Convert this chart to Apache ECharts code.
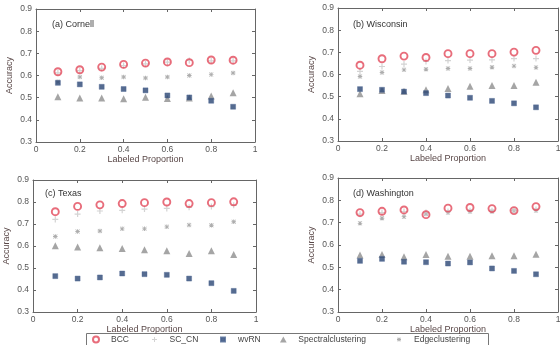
<!DOCTYPE html>
<html>
<head>
<meta charset="utf-8">
<script src="https://cdn.jsdelivr.net/npm/echarts@6/dist/echarts.min.js"></script>
<style>
html,body{margin:0;padding:0;background:#fff;}
#c{width:560px;height:345px;}
</style>
</head>
<body>
<div id="c"></div>
<script>
// ---- data ----
const xs = [0.1, 0.2, 0.3, 0.4, 0.5, 0.6, 0.7, 0.8, 0.9];
const seriesNames = ['BCC', 'SC_CN', 'wvRN', 'Spectralclustering', 'Edgeclustering'];
const panelTitles = ['(a) Cornell', '(b) Wisconsin', '(c) Texas', '(d) Washington'];

const cornellBCC      = [0.617, 0.626, 0.638, 0.650, 0.656, 0.661, 0.658, 0.670, 0.669];
const cornellSCCN     = [0.612, 0.622, 0.632, 0.645, 0.652, 0.660, 0.668, 0.666, 0.666];
const cornellWvRN     = [0.567, 0.560, 0.549, 0.539, 0.533, 0.510, 0.501, 0.486, 0.459];
const cornellSpectral = [0.504, 0.499, 0.498, 0.495, 0.502, 0.496, 0.499, 0.507, 0.522];
const cornellEdge     = [0.572, 0.593, 0.590, 0.593, 0.589, 0.593, 0.600, 0.604, 0.611];

const wiscBCC      = [0.642, 0.671, 0.683, 0.677, 0.694, 0.694, 0.694, 0.701, 0.709];
const wiscSCCN     = [0.614, 0.636, 0.647, 0.659, 0.663, 0.665, 0.666, 0.672, 0.672];
const wiscWvRN     = [0.534, 0.531, 0.523, 0.516, 0.505, 0.495, 0.481, 0.470, 0.452];
const wiscSpectral = [0.513, 0.528, 0.525, 0.531, 0.537, 0.547, 0.550, 0.550, 0.565];
const wiscEdge     = [0.591, 0.609, 0.621, 0.624, 0.627, 0.627, 0.633, 0.638, 0.632];

const texasBCC      = [0.756, 0.780, 0.787, 0.793, 0.797, 0.800, 0.793, 0.797, 0.801];
const texasSCCN     = [0.721, 0.745, 0.759, 0.762, 0.768, 0.771, 0.776, 0.779, 0.785];
const texasWvRN     = [0.463, 0.452, 0.457, 0.475, 0.472, 0.469, 0.452, 0.431, 0.396];
const texasSpectral = [0.601, 0.596, 0.592, 0.589, 0.583, 0.578, 0.566, 0.578, 0.561];
const texasEdge     = [0.643, 0.666, 0.668, 0.678, 0.678, 0.687, 0.695, 0.694, 0.710];

const washBCC      = [0.745, 0.751, 0.757, 0.736, 0.765, 0.768, 0.763, 0.754, 0.772];
const washSCCN     = [0.738, 0.745, 0.750, 0.745, 0.750, 0.753, 0.753, 0.754, 0.759];
const washWvRN     = [0.529, 0.538, 0.525, 0.523, 0.517, 0.522, 0.495, 0.484, 0.469];
const washSpectral = [0.555, 0.558, 0.547, 0.558, 0.550, 0.550, 0.552, 0.552, 0.559];
const washEdge     = [0.697, 0.720, 0.727, 0.739, 0.745, 0.750, 0.750, 0.753, 0.754];

const xTickMin = 0, xTickMax = 1, xTickStep = 0.2;
const yTickMin = 0.3, yTickMax = 0.9, yTickStep = 0.1;

// ---- layout / style ----
const panelData = [
  [cornellBCC, cornellSCCN, cornellWvRN, cornellSpectral, cornellEdge],
  [wiscBCC, wiscSCCN, wiscWvRN, wiscSpectral, wiscEdge],
  [texasBCC, texasSCCN, texasWvRN, texasSpectral, texasEdge],
  [washBCC, washSCCN, washWvRN, washSpectral, washEdge]
];
const grids = [
  {left: 36, top: 9, width: 219, height: 133},
  {left: 338, top: 8, width: 220, height: 133},
  {left: 33, top: 180, width: 223, height: 132},
  {left: 338, top: 178, width: 220, height: 134}
];
const titlePos = [[47, 15], [348, 15], [40, 184], [348, 184]];

const plusPath = 'path://M4,0H6V4H10V6H6V10H4V6H0V4H4Z';
const starPath = 'path://M4,0H6V4H10V6H6V10H4V6H0V4H4Z M1,0L5,4L9,0L10,1L6,5L10,9L9,10L5,6L1,10L0,9L4,5L0,1Z';
const squarePath = 'path://M0,0H10V10H0Z';
const triPath = 'path://M5,0L10,9H0Z';

const styles = {
  'BCC': {symbol: 'circle', symbolSize: 7, itemStyle: {color: 'rgba(255,255,255,0)', borderColor: '#e2485a', borderWidth: 1.9}},
  'SC_CN': {symbol: plusPath, symbolSize: 6, itemStyle: {color: '#c8c8c8'}},
  'wvRN': {symbol: 'rect', symbolSize: 5, itemStyle: {color: '#2b4674', borderColor: '#4a6490', borderWidth: 0.5}},
  'Spectralclustering': {symbol: 'triangle', symbolSize: 7, itemStyle: {color: '#8e8e8e'}},
  'Edgeclustering': {symbol: starPath, symbolSize: 4.5, itemStyle: {color: '#999'}}
};
const legendIcons = {
  'BCC': 'circle', 'SC_CN': plusPath, 'wvRN': squarePath,
  'Spectralclustering': triPath, 'Edgeclustering': starPath
};
const legendIconSize = {'BCC': 6, 'SC_CN': 5, 'wvRN': 4, 'Spectralclustering': 6, 'Edgeclustering': 4};
const drawOrder = ['Edgeclustering', 'Spectralclustering', 'wvRN', 'SC_CN', 'BCC'];

const axisColor = '#666';
const labelColor = '#555';
const fontFam = 'Liberation Sans, Arial, sans-serif';

const xAxes = [], yAxes = [], series = [], titles = [];
grids.forEach((g, i) => {
  const base = {
    gridIndex: i, type: 'value',
    splitLine: {show: false},
    axisLine: {show: true, onZero: false, lineStyle: {color: axisColor, width: 1}},
    axisTick: {show: true, inside: true, length: 3, lineStyle: {color: axisColor}}
  };
  xAxes.push(Object.assign({}, base, {
    position: 'bottom', min: xTickMin, max: xTickMax, interval: xTickStep,
    name: 'Labeled Proportion', nameLocation: 'middle', nameGap: 11,
    nameTextStyle: {fontSize: 9, color: '#5a4848', fontFamily: fontFam},
    axisLabel: {fontSize: 8.5, color: labelColor, margin: 3, fontFamily: fontFam}
  }));
  xAxes.push(Object.assign({}, base, {
    position: 'top', min: xTickMin, max: xTickMax, interval: xTickStep,
    axisLabel: {show: false}
  }));
  yAxes.push(Object.assign({}, base, {
    position: 'left', min: yTickMin, max: yTickMax, interval: yTickStep,
    name: 'Accuracy', nameLocation: 'middle', nameGap: 22, nameRotate: 90,
    nameTextStyle: {fontSize: 9, color: '#5a4848', fontFamily: fontFam},
    axisLabel: {fontSize: 8.5, color: labelColor, margin: 4, fontFamily: fontFam,
      formatter: v => v.toFixed(1)}
  }));
  yAxes.push(Object.assign({}, base, {
    position: 'right', min: yTickMin, max: yTickMax, interval: yTickStep,
    axisLabel: {show: false}
  }));
  titles.push({
    text: panelTitles[i], left: titlePos[i][0], top: titlePos[i][1],
    textStyle: {fontSize: 9, fontWeight: 'normal', color: '#333', fontFamily: fontFam}
  });
  drawOrder.forEach(name => {
    const k = seriesNames.indexOf(name);
    const vals = panelData[i][k];
    series.push(Object.assign({
      name: name, type: 'scatter',
      xAxisIndex: i * 2, yAxisIndex: i * 2,
      data: xs.map((x, j) => [x, vals[j]]),
      animation: false, emphasis: {disabled: true}
    }, styles[name]));
  });
});

// legend: one component per entry, placed like the reference
const legendLeft = [92, 152, 220, 280, 397];
const legends = seriesNames.map((n, k) => ({
  data: [{name: n, icon: legendIcons[n]}],
  left: legendLeft[k], top: 335, orient: 'horizontal',
  itemWidth: 20, itemHeight: legendIconSize[n], itemGap: 5, padding: 0, selectedMode: false,
  symbolKeepAspect: true,
  textStyle: {fontSize: 8.5, color: '#444', fontFamily: fontFam}
}));

const chart = echarts.init(document.getElementById('c'), null, {renderer: 'canvas'});
chart.setOption({
  backgroundColor: '#fff',
  animation: false,
  title: titles,
  grid: grids.map(g => Object.assign({containLabel: false, outerBoundsMode: 'none'}, g)),
  xAxis: xAxes,
  yAxis: yAxes,
  legend: legends,
  graphic: [{
    type: 'rect', silent: true, z: -1,
    shape: {x: 86.5, y: 333.5, width: 402, height: 20},
    style: {fill: '#fff', stroke: '#777', lineWidth: 1}
  }],
  series: series
});
</script>
</body>
</html>
